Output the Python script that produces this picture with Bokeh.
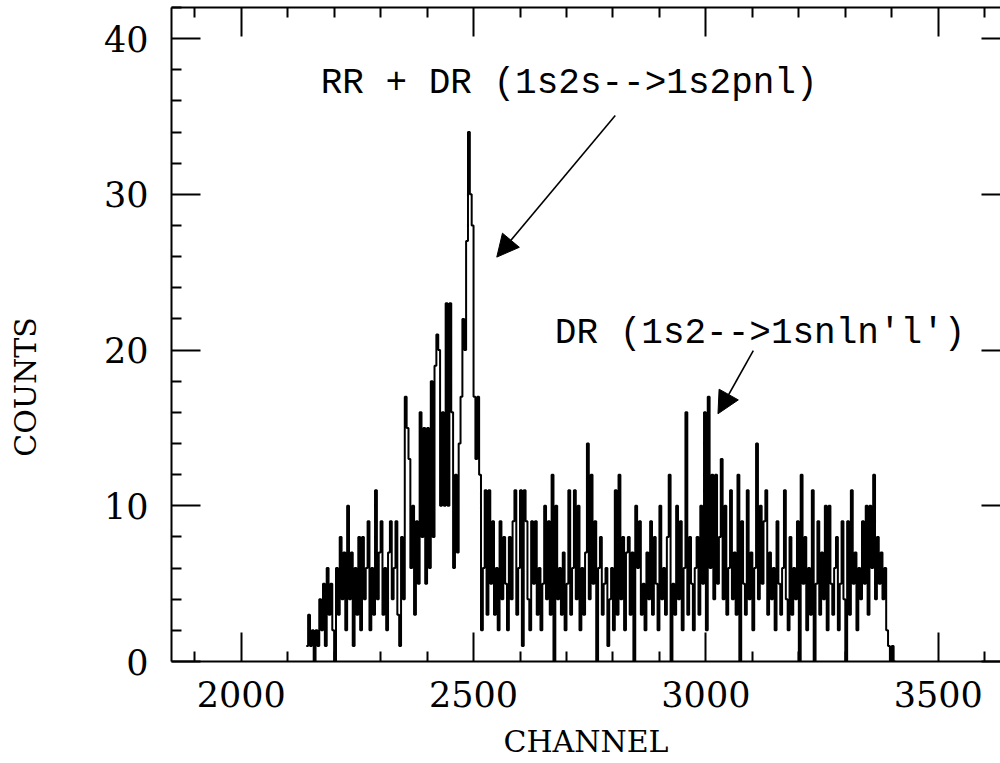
import math
from bokeh.plotting import figure
from bokeh.models import (Label, Arrow, NormalHead, LinearAxis, FixedTicker, Range1d)
from bokeh.embed import file_html
from bokeh.resources import INLINE

# ---- data: counts per 4-channel bin, starting at channel 2140 ----
counts = [
    1, 3, 1, 2, 0, 2, 1, 4, 2, 5,          # 2140
    1, 6, 3, 5, 2, 0, 6, 3, 8, 4,          # 2180
    7, 2, 10, 4, 7, 1, 6, 3, 8, 2,         # 2220
    8, 4, 6, 9, 2, 6, 3, 11, 4, 7,         # 2260
    9, 3, 6, 2, 7, 9, 4, 6, 9, 3,          # 2300
    1, 8, 4, 17, 15, 13, 6, 10, 3, 9,      # 2340
    5, 16, 8, 15, 5, 15, 6, 18, 8, 19,     # 2380
    21, 20, 10, 16, 10, 23, 10, 23, 16, 6, # 2420
    12, 7, 14, 17, 22, 20, 27, 34, 30, 28, # 2460
    17, 13, 17, 12, 2, 6, 11, 3, 11, 5,    # 2500
    9, 3, 6, 2, 9, 4, 8, 5, 2, 8,          # 2540
    4, 9, 11, 3, 6, 11, 1, 11, 9, 4,       # 2580
    2, 9, 5, 9, 3, 6, 2, 5, 10, 4,         # 2620
    9, 3, 12, 0, 10, 4, 6, 3, 7, 2,        # 2660
    5, 11, 3, 6, 11, 4, 10, 2, 6, 3,       # 2700
    7, 14, 4, 12, 5, 9, 0, 6, 8, 3,        # 2740
    5, 6, 1, 4, 6, 2, 11, 3, 12, 4,        # 2780
    8, 2, 7, 8, 3, 7, 0, 10, 6, 9,         # 2820
    3, 5, 2, 7, 4, 9, 3, 8, 5, 2,          # 2860
    10, 4, 6, 3, 8, 12, 0, 5, 3, 10,       # 2900
    4, 9, 2, 6, 16, 3, 8, 5, 2, 6,         # 2940
    8, 3, 10, 5, 16, 2, 17, 6, 12, 4,      # 2980
    12, 5, 8, 13, 4, 10, 3, 6, 11, 4,      # 3020
    7, 3, 12, 0, 9, 5, 3, 11, 4, 7,        # 3060
    2, 6, 14, 4, 10, 5, 9, 11, 3, 7,       # 3100
    4, 6, 2, 9, 5, 3, 6, 11, 4, 2,         # 3140
    8, 3, 6, 4, 9, 0, 12, 5, 8, 2,         # 3180
    6, 3, 11, 0, 5, 9, 3, 7, 4, 10,        # 3220
    2, 10, 5, 3, 6, 8, 2, 5, 9, 4,         # 3260
    0, 9, 3, 11, 5, 7, 2, 6, 4, 9,         # 3300
    5, 10, 3, 10, 6, 12, 4, 8, 5, 7,       # 3340
    4, 6, 2, 1, 0, 1, 0,                   # 3380
]
first_channel = 2140
bin_width = 4
channels = [first_channel + bin_width * i for i in range(len(counts))]

x_major = [2000, 2500, 3000, 3500]
x_minor = [1900, 2100, 2200, 2300, 2400, 2600, 2700, 2800,
           2900, 3100, 3200, 3300, 3400, 3600]
y_major = [0, 10, 20, 30, 40]
y_minor = [2, 4, 6, 8, 12, 14, 16, 18, 22, 24, 26, 28,
           32, 34, 36, 38, 42]

annot_texts = ["RR + DR (1s2s-->1s2pnl)", "DR (1s2-->1snln'l')"]
annot_x = [2171, 2675]
annot_y = [37.1, 21.06]
arrow_start_x = [2805, 3102]
arrow_start_y = [35.07, 19.97]
arrow_end_x = [2550, 3026]
arrow_end_y = [25.97, 15.91]

SERIF = "DejaVu Serif"
MONO = "Liberation Mono"

p = figure(width=1000, height=763,
           x_range=Range1d(1850, 3634), y_range=Range1d(0, 42),
           output_backend="svg", toolbar_location=None,
           x_axis_location=None, y_axis_location=None,
           min_border_left=171, min_border_right=0,
           min_border_top=7, min_border_bottom=102)
p.outline_line_color = None
p.outline_line_alpha = 0
p.outline_line_width = 0
p.grid.visible = False
p.background_fill_color = "white"
p.border_fill_color = "white"


def style_axis(ax):
    ax.axis_line_width = 2
    ax.axis_line_color = "black"
    ax.major_tick_out = 0
    ax.minor_tick_out = 0
    ax.major_tick_line_width = 2
    ax.minor_tick_line_width = 2
    ax.major_tick_line_color = "black"
    ax.minor_tick_line_color = "black"
    ax.major_label_text_font = SERIF
    ax.major_label_text_font_size = "35px"
    ax.major_label_text_color = "black"


def tick_only_axis(positions, length, line=True):
    # axis without labels: ticks drawn as "minor" ticks of an empty major ticker
    ax = LinearAxis(ticker=FixedTicker(ticks=[], minor_ticks=positions))
    style_axis(ax)
    ax.major_label_standoff = 0
    ax.minor_tick_in = length
    if not line:
        ax.axis_line_color = None
        ax.axis_line_alpha = 0
        ax.axis_line_width = 0
    return ax


bottom = LinearAxis(ticker=FixedTicker(ticks=x_major, minor_ticks=x_minor))
style_axis(bottom)
bottom.major_tick_in = 29
bottom.minor_tick_in = 10
bottom.major_label_standoff = 19
bottom.axis_label = "CHANNEL"
bottom.axis_label_text_font = SERIF
bottom.axis_label_text_font_size = "30px"
bottom.axis_label_text_font_style = "normal"
bottom.axis_label_text_color = "black"
bottom.axis_label_standoff = 14
p.add_layout(bottom, "below")

p.add_layout(tick_only_axis(x_major, 29), "above")
p.add_layout(tick_only_axis(x_minor, 10, line=False), "above")

left = LinearAxis(ticker=FixedTicker(ticks=y_major, minor_ticks=y_minor))
style_axis(left)
left.major_tick_in = 29
left.minor_tick_in = 10
left.major_label_standoff = 23
# trailing no-break spaces move the visible word below the frame centre,
# where the original places it
left.axis_label = "COUNTS" + "\u00a0" * 11
left.axis_label_text_font = SERIF
left.axis_label_text_font_size = "30px"
left.axis_label_text_font_style = "normal"
left.axis_label_text_color = "black"
left.axis_label_standoff = 58
p.add_layout(left, "left")

p.add_layout(tick_only_axis(y_major, 19, line=False), "right")

# histogram as a step line
edges = channels + [channels[-1] + bin_width]
vals = counts + [counts[-1]]
p.step(x=edges, y=vals, mode="after", line_color="black", line_width=2.0)

for t, tx, ty in zip(annot_texts, annot_x, annot_y):
    p.add_layout(Label(x=tx, y=ty, text=t, text_align="left",
                       text_baseline="alphabetic", text_font=MONO,
                       text_font_size="36px", text_color="black"))

for xs, ys, xe, ye in zip(arrow_start_x, arrow_start_y, arrow_end_x, arrow_end_y):
    p.add_layout(Arrow(end=NormalHead(size=22, fill_color="black",
                                      line_color="black", line_width=1),
                       x_start=xs, y_start=ys, x_end=xe, y_end=ye,
                       line_width=1.6, line_color="black"))

open("out.html", "w").write(file_html(p, INLINE, title="counts"))
